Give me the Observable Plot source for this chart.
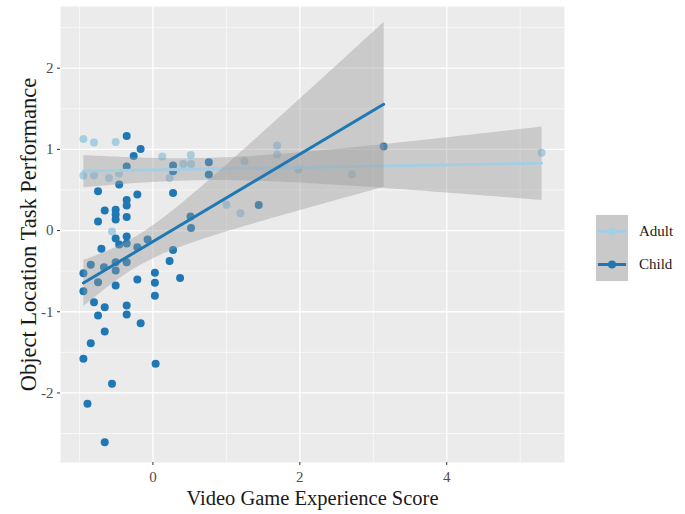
<!DOCTYPE html>
<html>
<head>
<meta charset="utf-8">
<script src="https://cdn.jsdelivr.net/npm/d3@7"></script>
<script src="https://cdn.jsdelivr.net/npm/@observablehq/plot@0.6"></script>
<style>
  html, body { margin: 0; padding: 0; background: #fff; }
  #wrap { position: relative; width: 685px; height: 514px; font-family: "Liberation Serif", "DejaVu Serif", serif; }
  #legend { position: absolute; left: 596px; top: 215px; }
  .row { display: flex; align-items: center; height: 33px; }
  .key { width: 32px; height: 33px; background: #c9c9c9; }
  .lab { margin-left: 11px; font-size: 15px; color: #1a1a1a; }
</style>
</head>
<body>
<div id="wrap"><div id="legend"></div></div>
<script>
const groups = ["Adult", "Child"];
const colors = ["#a6cee3", "#1f78b4"];

const adultX = [-0.946, -0.802, -0.507, 0.128, 0.516, 0.413, 0.519, -0.946, -0.802, -0.598, -0.462, 0.227, -0.557, 1.246, 1.690, 1.690, 1.980, 1.001, 1.192, 2.709, 5.291];
const adultY = [1.129, 1.084, 1.090, 0.911, 0.932, 0.821, 0.819, 0.677, 0.677, 0.649, 0.702, 0.647, -0.012, 0.853, 1.047, 0.936, 0.751, 0.317, 0.213, 0.690, 0.957];

const childX = [-0.357, -0.167, -0.262, -0.357, 0.274, 0.274, 0.761, 0.761, 3.141, -0.459,
  -0.747, -0.212, 0.274, -0.357, -0.357, -0.656, -0.507, -0.507, -0.357, -0.507,
  -0.747, 0.512, 0.519, 1.440, -0.507, -0.357, -0.459, -0.357, -0.701, -0.212,
  -0.072, 0.274, 0.227, -0.846, -0.666, -0.507, -0.357, -0.507, -0.946, -0.747,
  -0.507, -0.212, 0.027, 0.027, 0.370, 0.027, -0.946, -0.802, -0.656, -0.357,
  -0.747, -0.357, -0.167, -0.656, -0.846, -0.946, 0.037, -0.557, -0.891, -0.656];
const childY = [1.164, 1.006, 0.917, 0.788, 0.800, 0.730, 0.841, 0.690, 1.034, 0.567,
  0.484, 0.443, 0.464, 0.376, 0.308, 0.246, 0.255, 0.197, 0.166, 0.135,
  0.111, 0.172, 0.031, 0.314, -0.099, -0.074, -0.172, -0.160, -0.225, -0.206,
  -0.111, -0.238, -0.376, -0.422, -0.452, -0.390, -0.390, -0.493, -0.526, -0.637,
  -0.677, -0.603, -0.521, -0.644, -0.583, -0.804, -0.748, -0.883, -0.945, -0.924,
  -1.047, -1.034, -1.142, -1.244, -1.388, -1.580, -1.642, -1.888, -2.134, -2.607];

const xMajor = [0, 2, 4];
const xMinor = [-1, 1, 3, 5];
const yMajor = [-2, -1, 0, 1, 2];
const yMinor = [-2.5, -1.5, -0.5, 0.5, 1.5, 2.5];

const data = [
  ...adultX.map((x, i) => ({x, y: adultY[i], group: "Adult"})),
  ...childX.map((x, i) => ({x, y: childY[i], group: "Child"}))
];

const chart = Plot.plot({
  width: 685,
  height: 514,
  marginLeft: 60,
  marginRight: 121,
  marginTop: 6,
  marginBottom: 52,
  style: { fontFamily: "Liberation Serif, serif", background: "#fff", overflow: "visible" },
  x: { domain: [-1.258, 5.603] },
  y: { domain: [-2.857, 2.76] },
  color: { domain: groups, range: colors },
  marks: [
    Plot.frame({ fill: "#ebebeb", stroke: "none" }),
    Plot.gridX(xMinor, { stroke: "#fff", strokeOpacity: 1, strokeWidth: 0.6 }),
    Plot.gridY(yMinor, { stroke: "#fff", strokeOpacity: 1, strokeWidth: 0.6 }),
    Plot.gridX(xMajor, { stroke: "#fff", strokeOpacity: 1, strokeWidth: 1.3 }),
    Plot.gridY(yMajor, { stroke: "#fff", strokeOpacity: 1, strokeWidth: 1.3 }),
    Plot.axisX(xMajor, { tickSize: 3, tickPadding: 6, fontSize: 15, color: "#4d4d4d", stroke: "#333",
      tickFormat: d => String(d),
      label: "Video Game Experience Score", labelAnchor: "center", labelArrow: "none", labelOffset: 42 }),
    Plot.axisY(yMajor, { tickSize: 3, tickPadding: 4, fontSize: 15, color: "#4d4d4d", stroke: "#333",
      tickFormat: d => String(d),
      label: "Object Location Task Performance", labelAnchor: "center", labelArrow: "none", labelOffset: 40 }),
    Plot.dot(data, { x: "x", y: "y", fill: "group", r: 4, stroke: "none" }),
    Plot.linearRegressionY(data, { x: "x", y: "y", stroke: "group", z: "group", fill: "#999999",
      fillOpacity: 0.4, strokeWidth: 3, ci: 0.95 })
  ]
});
document.getElementById("wrap").prepend(chart);

// style axis titles
chart.querySelectorAll("[aria-label='x-axis label'] text").forEach(t => {
  t.setAttribute("font-size", "20.5");
  t.style.fill = "#1a1a1a";
});
chart.querySelectorAll("[aria-label='y-axis label'] text").forEach(t => {
  t.setAttribute("font-size", "22.5");
  t.style.fill = "#1a1a1a";
});

const legend = document.getElementById("legend");
groups.forEach((g, i) => {
  const row = document.createElement("div");
  row.className = "row";
  row.innerHTML = `<div class="key"><svg width="32" height="33"><line x1="2" x2="30" y1="16.5" y2="16.5" stroke="${colors[i]}" stroke-width="3"/><circle cx="16" cy="16.5" r="4" fill="${colors[i]}"/></svg></div><div class="lab">${g}</div>`;
  legend.appendChild(row);
});
</script>
</body>
</html>
